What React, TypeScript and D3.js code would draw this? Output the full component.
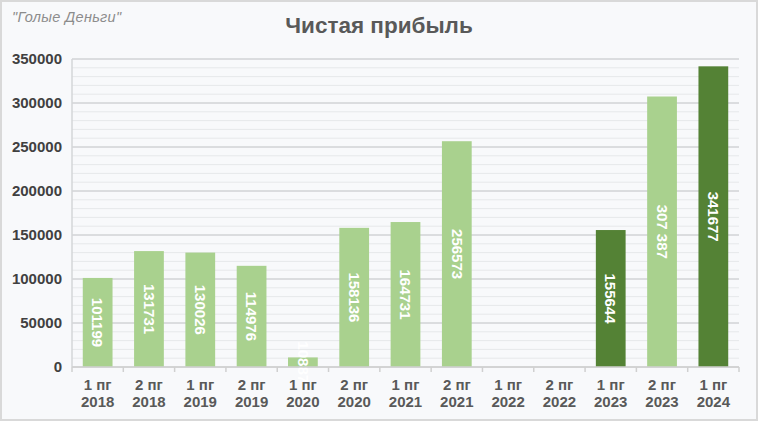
import React from "react";
import * as d3 from "d3";

const categories = [
  "1 пг|2018", "2 пг|2018", "1 пг|2019", "2 пг|2019", "1 пг|2020", "2 пг|2020",
  "1 пг|2021", "2 пг|2021", "1 пг|2022", "2 пг|2022", "1 пг|2023", "2 пг|2023", "1 пг|2024",
];
const values: (number | null)[] = [
  101199, 131731, 130026, 114976, 10887, 158136, 164731, 256573, null, null, 155644, 307387, 341677,
];
const valueLabels = [
  "101199", "131731", "130026", "114976", "10887", "158136", "164731", "256573", "", "", "155644", "307 387", "341677",
];
const dark = [false, false, false, false, false, false, false, false, false, false, true, false, true];
const yTicks = [0, 50000, 100000, 150000, 200000, 250000, 300000, 350000];
const minorTicks = d3.range(0, 350001, 10000);

const W = 758, H = 421;
const M = { left: 72, right: 19, top: 59, bottom: 54 };

export default function App() {
  const x = d3.scaleBand<string>().domain(categories).range([M.left, W - M.right]).paddingInner(0.42).paddingOuter(0.21);
  const y = d3.scaleLinear().domain([0, 350000]).range([H - M.bottom, M.top]);
  const step = x.step();
  const x0 = M.left;
  const font = "Arial, 'Liberation Sans', sans-serif";
  return (
    <div style={{ position: "fixed", left: 0, top: 0 }}>
      <svg width={W} height={H} style={{ display: "block", fontFamily: font }}>
        <rect x={1} y={1} width={W - 2} height={H - 2} fill="#f8f9fb" stroke="#d9d9d9" strokeWidth={2} />
        <text x={12} y={22} fontSize={14.5} fontStyle="italic" fill="#8c8c8c" letterSpacing={0.3}>"Голые Деньги"</text>
        <text x={W / 2} y={33} fontSize={22.5} fontWeight="bold" fill="#595959" textAnchor="middle">Чистая прибыль</text>
        {minorTicks.map((t) => (
          <line key={"m" + t} x1={M.left} x2={W - M.right} y1={y(t)} y2={y(t)} stroke="#e6e8ea" strokeWidth={1} />
        ))}
        {yTicks.map((t) => (
          <g key={t}>
            <line x1={M.left} x2={W - M.right} y1={y(t)} y2={y(t)} stroke="#d4d6d8" strokeWidth={1.5} />
            <text x={62} y={y(t) + 5} fontSize={15} fontWeight="bold" fill="#404040" textAnchor="end">{t}</text>
          </g>
        ))}
        <line x1={M.left} x2={M.left} y1={M.top} y2={y(0)} stroke="#d4d6d8" strokeWidth={1.5} />
        {categories.map((c, i) => {
          const v = values[i];
          const bx = x(c) as number;
          const bw = x.bandwidth();
          const cx = bx + bw / 2;
          const [l1, l2] = c.split("|");
          return (
            <g key={c}>
              {v !== null && (
                <rect x={bx} y={y(v)} width={bw} height={y(0) - y(v)} fill={dark[i] ? "#548235" : "#a9d18e"} />
              )}
              {v !== null && (
                <text
                  transform={`translate(${cx},${(y(v) + y(0)) / 2}) rotate(90)`}
                  fontSize={15} fontWeight="bold" fill="#ffffff" textAnchor="middle" dy="0.35em"
                >
                  {valueLabels[i]}
                </text>
              )}
              <text x={cx} y={390} fontSize={15} fontWeight="bold" fill="#595959" textAnchor="middle">{l1}</text>
              <text x={cx} y={407} fontSize={15} fontWeight="bold" fill="#595959" textAnchor="middle">{l2}</text>
            </g>
          );
        })}
        <line x1={M.left} x2={W - M.right} y1={y(0)} y2={y(0)} stroke="#d0d0d0" strokeWidth={1.5} />
        {d3.range(categories.length + 1).map((i) => (
          <line key={"t" + i} x1={x0 + i * step} x2={x0 + i * step} y1={y(0)} y2={y(0) + 5} stroke="#d0d0d0" strokeWidth={1.5} />
        ))}
      </svg>
    </div>
  );
}
